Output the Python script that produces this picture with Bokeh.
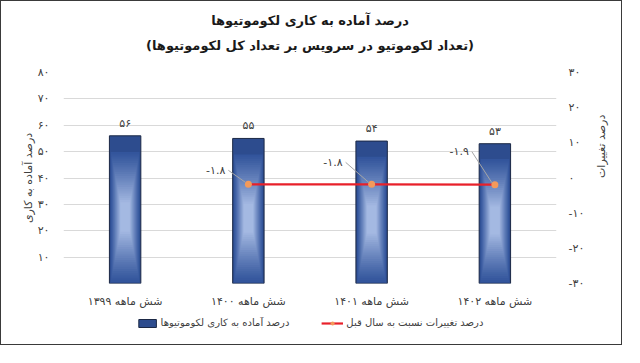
import numpy as np
from bokeh.plotting import figure
from bokeh.layouts import column
from bokeh.models import (Range1d, LinearAxis, FixedTicker, Legend, LegendItem, Title)
from bokeh.embed import file_html
from bokeh.resources import INLINE

# ---------------- data ----------------
categories = ["شش ماهه ۱۳۹۹", "شش ماهه ۱۴۰۰", "شش ماهه ۱۴۰۱", "شش ماهه ۱۴۰۲"]
ready_pct = [56, 55, 54, 53]
change_cats = ["شش ماهه ۱۴۰۰", "شش ماهه ۱۴۰۱", "شش ماهه ۱۴۰۲"]
change_pct = [-1.8, -1.8, -1.9]
left_ticks = [0, 10, 20, 30, 40, 50, 60, 70, 80]
right_ticks = [-30, -20, -10, 0, 10, 20, 30]

title1 = "درصد آماده به کاری لکوموتیوها"
title2 = "(تعداد لکوموتیو در سرویس بر تعداد کل لکوموتیوها)"
left_label = "درصد آماده به کاری"
right_label = "درصد تغییرات"
legend_bar = "درصد آماده به کاری لکوموتیوها"
legend_line = "درصد تغییرات نسبت به سال قبل"

FA = str.maketrans("0123456789", "۰۱۲۳۴۵۶۷۸۹")
def fa(v):
    return str(v).translate(FA)

FONT = "DejaVu Sans"
TXT = "#404040"
BAR_FILL = "#2D4C8E"
BAR_LINE = "#1B2845"
LINE_COL = "#E8202A"
MARK_COL = "#F39A5B"
EDGE = "1px solid #3a3a3a"

# ---------------- main figure ----------------
W = 622
H1, H2 = 317, 28
ML, MR, MT, MB = 62, 67, 71, 35
FW = W - ML - MR
FH = H1 - MT - MB

p = figure(width=W, height=H1, output_backend="svg", toolbar_location=None,
           x_range=Range1d(-0.5, len(categories) - 0.5), y_range=Range1d(0, 80),
           min_border_left=ML, min_border_right=MR, min_border_top=MT, min_border_bottom=MB)
p.styles = {"border-left": EDGE, "border-right": EDGE, "border-top": EDGE}
p.outline_line_color = None
p.background_fill_color = "white"
p.border_fill_color = "white"
p.xgrid.grid_line_color = None
p.ygrid.grid_line_color = "#D9D9D9"
p.ygrid.grid_line_width = 1
p.ygrid.ticker = FixedTicker(ticks=left_ticks)

p.extra_y_ranges = {"chg": Range1d(-30, 30)}

def style_axis(ax, standoff):
    ax.axis_line_color = None
    ax.major_tick_line_color = None
    ax.minor_tick_line_color = None
    ax.major_tick_out = 0
    ax.major_tick_in = 0
    ax.minor_tick_out = 0
    ax.minor_tick_in = 0
    ax.major_label_standoff = standoff
    ax.major_label_text_font = FONT
    ax.major_label_text_font_size = "11px"
    ax.major_label_text_color = TXT
    ax.axis_label_text_font = FONT
    ax.axis_label_text_font_size = "11px"
    ax.axis_label_text_font_style = "normal"
    ax.axis_label_text_color = TXT

# left axis
ya = p.yaxis[0]
ya.ticker = FixedTicker(ticks=left_ticks)
ya.major_label_overrides = {t: (fa(t) if t != 0 else "") for t in left_ticks}
style_axis(ya, 14)
ya.axis_label = left_label
ya.axis_label_standoff = 0

# right axis
ra = LinearAxis(y_range_name="chg", ticker=FixedTicker(ticks=right_ticks))
ra.major_label_overrides = {t: fa(t) for t in right_ticks}
style_axis(ra, 12)
ra.axis_label = right_label
ra.axis_label_standoff = 14
try:
    ra.axis_label_orientation = np.pi / 2
except Exception:
    pass
p.add_layout(ra, "right")

# x axis
xa = p.xaxis[0]
xa.ticker = FixedTicker(ticks=list(range(len(categories))))
xa.major_label_overrides = {i: c for i, c in enumerate(categories)}
style_axis(xa, 11)

# ---------------- bars ----------------
xs = np.arange(len(categories))
vals = np.array(ready_pct, dtype=float)
BW = 0.255
p.vbar(x=xs, top=vals, bottom=0, width=BW, fill_color=BAR_FILL,
       line_color=BAR_LINE, line_width=1)

# glow layers (simulated radial gradient)
N = 24
c0 = np.array([0x33, 0x55, 0x9C])
c1 = np.array([0xA4, 0xB9, 0xE2])
for k in range(N):
    t = k / (N - 1)
    col = c0 + (c1 - c0) * (t ** 1.1)
    colhex = "#%02x%02x%02x" % tuple(int(round(c)) for c in col)
    w = BW * (0.92 - 0.62 * t)
    cen = vals * 0.45
    hh = vals * (0.44 - 0.34 * t)
    p.vbar(x=xs, top=cen + hh, bottom=cen - hh, width=w, fill_color=colhex,
           line_color=None)

# bar value labels
p.text(x=xs, y=vals, text=[fa(v) for v in ready_pct], text_align="center",
       text_baseline="bottom", y_offset=-6, text_font_size="11px",
       text_color=TXT, text_font={"value": FONT})

# ---------------- change line ----------------
cx = np.array([categories.index(c) for c in change_cats])
cy = np.array(change_pct)
p.line(x=cx, y=cy, y_range_name="chg", line_color=LINE_COL, line_width=2.2)
p.scatter(x=cx, y=cy, y_range_name="chg", marker="circle", size=7,
          fill_color=MARK_COL, line_color=None)

# labels with leader lines (pixel offsets)
px_x = len(categories) / FW
px_y = 60.0 / FH
dxs = np.array([-23, -29, -26])
dys = np.array([-14, -22, -33])  # screen px, negative = up
p.segment(x0=cx + (dxs + 3) * px_x, y0=cy - dys * px_y,
          x1=cx - 3 * px_x, y1=cy + 2 * px_y, y_range_name="chg",
          line_color="#A6A6A6", line_width=1)
p.text(x=cx, y=cy, text=[fa(v) for v in change_pct], y_range_name="chg",
       x_offset=dxs, y_offset=dys, text_align="right", text_baseline="middle",
       text_font_size="11px", text_color=TXT, text_font={"value": FONT})

# ---------------- titles ----------------
spacer = Title(text=" ", align="center", text_font_size="1px", standoff=17)
t2 = Title(text=title2, align="center", text_font=FONT, text_font_style="bold",
           text_font_size="13px", text_color="#1a1a1a", standoff=0)
t1 = Title(text=title1, align="center", text_font=FONT, text_font_style="bold",
           text_font_size="13px", text_color="#1a1a1a", standoff=16)
p.add_layout(spacer, "above")
p.add_layout(t2, "above")
p.add_layout(t1, "above")

# ---------------- legend strip ----------------
q = figure(width=W, height=H2, output_backend="svg", toolbar_location=None,
           x_range=Range1d(0, 1), y_range=Range1d(0, 1),
           min_border_left=0, min_border_right=0, min_border_top=0, min_border_bottom=0)
q.styles = {"border-left": EDGE, "border-right": EDGE, "border-bottom": EDGE}
q.axis.visible = False
q.grid.visible = False
q.outline_line_color = None
q.background_fill_color = "white"
q.border_fill_color = "white"
# legend-only renderers, data placed outside the visible range
rb = q.vbar(x=[-5], top=[-5], bottom=[-6], width=0.1, fill_color=BAR_FILL,
            line_color=BAR_LINE, line_width=1)
rl = q.line(x=[-5, -4], y=[-5, -5], line_color=LINE_COL, line_width=2.2)
rm = q.scatter(x=[-5], y=[-5], marker="circle", size=7, fill_color=MARK_COL,
               line_color=None)
legend = Legend(items=[LegendItem(label=legend_bar, renderers=[rb]),
                       LegendItem(label=legend_line, renderers=[rl, rm])],
                orientation="horizontal", location="top_center",
                glyph_width=22, glyph_height=10, label_standoff=3, spacing=32,
                padding=2, margin=0, border_line_color=None,
                background_fill_alpha=0, label_text_font=FONT,
                label_text_font_size="10px", label_text_color=TXT)
q.add_layout(legend, "center")

lay = column(p, q, spacing=0)

open("out.html", "w").write(file_html(lay, INLINE))
